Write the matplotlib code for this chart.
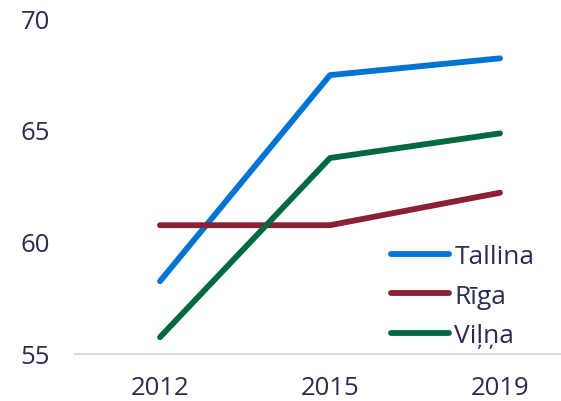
import matplotlib
matplotlib.use("Agg")
import matplotlib.pyplot as plt

years = ["2012", "2015", "2019"]
tallina = [58.25, 67.45, 68.2]
riga = [60.75, 60.75, 62.2]
vilna = [55.75, 63.75, 64.85]
series_names = ["Tallina", "Rīga", "Viļņa"]
colors = ["#0074D2", "#8C1F33", "#00693F"]
yticks = [55, 60, 65, 70]

plt.rcParams['font.family'] = ['Open Sans', 'DejaVu Sans']
text_color = "#2B2D4F"

fig = plt.figure(figsize=(5.61, 4.02), dpi=100)
ax = fig.add_axes([75/561, (402-355)/402, (561-75)/561, (355-19)/402])

x = list(range(len(years)))
for vals, name, c in zip([tallina, riga, vilna], series_names, colors):
    ax.plot(x, vals, color=c, lw=4.2, solid_capstyle='round', label=name)

ax.set_xlim(-0.5, -0.5 + (561-75)/170)
ax.set_ylim(55, 70)
ax.set_xticks(x)
ax.set_xticklabels(years)
ax.set_yticks(yticks)
ax.tick_params(axis='both', length=0, labelsize=18.5, colors=text_color)
ax.tick_params(axis='y', pad=18)
ax.tick_params(axis='x', pad=15)
for s in ['top', 'right', 'left']:
    ax.spines[s].set_visible(False)
ax.spines['bottom'].set_color('#D8D8E8')
ax.spines['bottom'].set_linewidth(1.5)

leg = ax.legend(loc='upper left', bbox_to_anchor=((391-75)/486, (355-245)/336),
                frameon=False, fontsize=19, handlelength=2.2, handletextpad=0.2,
                labelspacing=0.55, borderaxespad=0, borderpad=0)
for t in leg.get_texts():
    t.set_color(text_color)

fig.savefig("out.png", dpi=100)
